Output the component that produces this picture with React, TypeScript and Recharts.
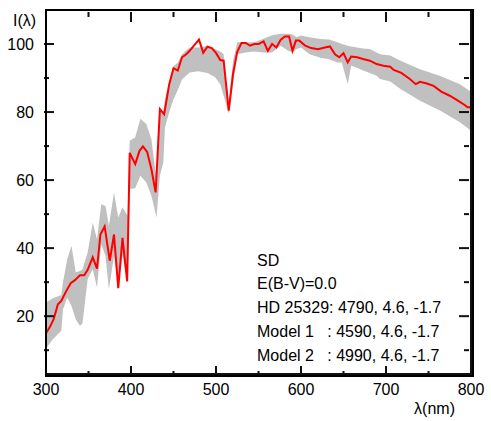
import React from 'react';
import { ComposedChart, Area, Line, XAxis, YAxis, Customized, ReferenceLine } from 'recharts';

// Red curve: HD 25329 observed intensity
const lineWavelengths = [
  300, 305, 309, 314, 318, 323, 329, 334, 340, 345, 349, 355, 360, 364, 369, 375, 380, 385, 390, 395.5,
  398.5, 405, 410, 414, 419, 424, 429, 434, 439, 445, 450, 455, 460, 465, 469, 474, 480, 485, 490, 495,
  500, 505, 509, 515, 520, 525, 530, 535, 540, 545, 550, 556, 561, 566, 571, 576, 581, 586, 590, 594,
  598, 605, 612, 620, 628, 634, 640, 645, 650, 655, 659, 666, 673, 681, 689, 697, 705, 709, 718, 728,
  735, 740, 748, 756, 765, 775, 785, 793, 796, 800,
];
const lineIntensity = [
  15, 17, 19.1, 23.5, 24.5, 27, 29.7, 30.6, 32, 32, 33.6, 37.3, 34, 44, 46.4, 36.3, 44, 28.2, 43, 30.2,
  68, 64.7, 68.6, 69.9, 68.3, 63.2, 56.4, 80.9, 79.4, 88.2, 92.9, 92.2, 96.1, 97, 98, 99.5, 101.3, 97.4, 99.2, 98.8,
  97.4, 95.3, 95.1, 80.4, 91.2, 97.7, 100.3, 100.3, 99.5, 100, 100, 100.8, 98, 100, 99, 101.2, 102.2, 102.2, 98, 101,
  101, 99.5, 98.8, 98.5, 99, 99.3, 97, 96.1, 97.3, 94.6, 96.3, 96.1, 95.6, 95.1, 94.1, 93.6, 93.3, 92.4, 91.5, 89.7,
  88.2, 88.9, 88.4, 87.7, 86, 84.8, 83.3, 82, 81.4, 81.4,
];

// Gray band: range spanned by the two models
const bandWavelengths = [
  300, 308, 318, 320, 325, 330, 335, 340, 343, 349, 355, 360, 365, 370, 374, 380, 385, 390, 396,
  398.5, 405, 411, 418, 424, 430, 434, 438, 440, 445, 450, 455, 460, 469, 479, 490, 499, 505, 509, 515,
  520, 525, 535, 545, 555, 566, 576, 585, 590, 595, 600, 610, 623, 633, 643, 648, 655, 659, 666, 673,
  681, 689, 693, 705, 717, 740, 764, 787, 800,
];
const bandLower = [
  10.5, 13.2, 15.7, 22, 25.5, 23, 19.1, 17.1, 18, 30.9, 33.8, 28.4, 41.2, 37.7, 27.9, 37.7, 28.9, 37.7, 30,
  57.4, 57.6, 61.3, 59.3, 55.4, 49, 61.3, 65.2, 75.5, 80, 83.8, 86.5, 89.6, 91.6, 92, 91.5, 90.2, 88.2, 84.8, 79.5,
  88, 97, 97.5, 97.8, 97.5, 97.5, 99.5, 98, 97.6, 98.5, 99, 97, 96, 95.5, 94.6, 94.6, 88.2, 93.6, 93, 92.2,
  91.5, 90.7, 89.7, 89, 86.8, 83.3, 80.4, 77, 74.5,
];
const bandUpper = [
  24, 25.3, 26.2, 30, 36.8, 40.7, 32.9, 33.3, 33.8, 38.7, 47.5, 42.6, 52.9, 52.4, 46.6, 56.4, 49, 52, 49.5,
  71.6, 72.6, 78, 76.5, 72, 60, 81, 80, 84, 89, 93.5, 94.5, 97, 99, 99, 99.5, 98.5, 97.8, 97, 82,
  95, 100.5, 100.5, 100.5, 101.5, 102.6, 103, 103, 102.8, 102, 102.5, 102, 101.5, 101.3, 100.5, 100, 99.5, 99.3, 99, 98.7,
  98.5, 97.5, 97, 96.6, 95.1, 92.6, 90.6, 88.2, 86,
];

const xTicks = [300, 350, 400, 450, 500, 550, 600, 650, 700, 750, 800];
const yTicks = [10, 20, 30, 40, 50, 60, 70, 80, 90, 100];
const X_MIN = 300;
const X_MAX = 800;
const Y_MIN = 3;
const Y_MAX = 110;

const legendLines = [
  'SD',
  'E(B-V)=0.0',
  'HD 25329: 4790, 4.6, -1.7',
  'Model 1\u00a0\u00a0\u00a0: 4590, 4.6, -1.7',
  'Model 2\u00a0\u00a0\u00a0: 4990, 4.6, -1.7',
];

const lineData = lineWavelengths.map((w, i) => ({ w, v: lineIntensity[i] }));
const bandData = bandWavelengths.map((w, i) => ({ w, range: [bandLower[i], bandUpper[i]] }));

const FS = 16;
const INK = '#111111';

// layout
const W = 491;
const H = 421;
const M_TOP = 10;
const M_RIGHT = 20;
const Y_AXIS_W = 46;
const X_AXIS_H = 47;
const PLOT_W = W - M_RIGHT - Y_AXIS_W;
const PLOT_H = H - M_TOP - X_AXIS_H;
const LW = 2;

const BottomTick = (props: any) => {
  const x = Number(props.x);
  const y = Number(props.y);
  const v = props.payload.value;
  const major = v % 100 === 0;
  const len = major ? 10 : 5;
  const top = y - PLOT_H;
  return (
    <g>
      <rect x={x - LW / 2} y={y - len} width={LW} height={len} fill={INK} />
      <rect x={x - LW / 2} y={top} width={LW} height={len} fill={INK} />
      {major && (
        <text x={x} y={y + 19} textAnchor="middle" fontSize={FS} fill="#000">
          {v}
        </text>
      )}
    </g>
  );
};

const LeftTick = (props: any) => {
  const x = Number(props.x);
  const y = Number(props.y);
  const v = props.payload.value;
  const major = v % 20 === 0;
  const len = major ? 10 : 5;
  const right = x + PLOT_W;
  return (
    <g>
      <rect x={x} y={y - LW / 2} width={len} height={LW} fill={INK} />
      <rect x={right - len} y={y - LW / 2} width={len} height={LW} fill={INK} />
      {major && (
        <text x={x - 10} y={y} dy="0.36em" textAnchor="end" fontSize={FS} fill="#000">
          {v}
        </text>
      )}
    </g>
  );
};

const Overlay = () => (
  <g>
    <rect x={Y_AXIS_W} y={M_TOP} width={PLOT_W} height={PLOT_H} fill="none" stroke={INK} strokeWidth={LW} />
    <text x={13} y={20} dy="0.36em" fontSize={FS} fill="#000">
      I(λ)
    </text>
    <text x={W - M_RIGHT - 16} y={408} dy="0.36em" textAnchor="end" fontSize={FS} fill="#000">
      λ(nm)
    </text>
    {legendLines.map((t, i) => (
      <text key={i} x={257} y={260 + i * 23.7} dy="0.36em" fontSize={FS} fill="#000">
        {t}
      </text>
    ))}
  </g>
);

export default function App() {
  return (
    <div
      style={{
        position: 'absolute',
        left: 0,
        top: 0,
        width: W,
        height: H,
        fontFamily: '"Liberation Sans", Arial, Helvetica, sans-serif',
      }}
    >
      <ComposedChart width={W} height={H} margin={{ top: M_TOP, right: M_RIGHT, bottom: 0, left: 0 }}>
        <XAxis
          dataKey="w"
          type="number"
          domain={[X_MIN, X_MAX]}
          ticks={xTicks}
          height={X_AXIS_H}
          stroke={INK}
          strokeWidth={LW}
          tickSize={0}
          tick={<BottomTick />}
        />
        <YAxis
          type="number"
          domain={[Y_MIN, Y_MAX]}
          ticks={yTicks}
          width={Y_AXIS_W}
          stroke={INK}
          strokeWidth={LW}
          tickSize={0}
          tick={<LeftTick />}
        />
        <Area
          data={bandData}
          dataKey="range"
          type="linear"
          stroke="none"
          fill="#c0c0c0"
          fillOpacity={1}
          isAnimationActive={false}
        />
        <Line
          data={lineData}
          dataKey="v"
          type="linear"
          stroke="#ff0000"
          strokeWidth={2}
          dot={false}
          isAnimationActive={false}
        />
        <ReferenceLine y={Y_MAX} stroke={INK} strokeWidth={LW} ifOverflow="extendDomain" />
        <ReferenceLine x={X_MAX} stroke={INK} strokeWidth={LW} ifOverflow="extendDomain" />
        <Customized component={Overlay} />
      </ComposedChart>
      <div
        style={{
          position: 'absolute',
          left: Y_AXIS_W - LW / 2,
          top: M_TOP - LW / 2,
          width: PLOT_W,
          height: PLOT_H,
          border: `${LW}px solid #000`,
          pointerEvents: 'none',
        }}
      />
    </div>
  );
}
